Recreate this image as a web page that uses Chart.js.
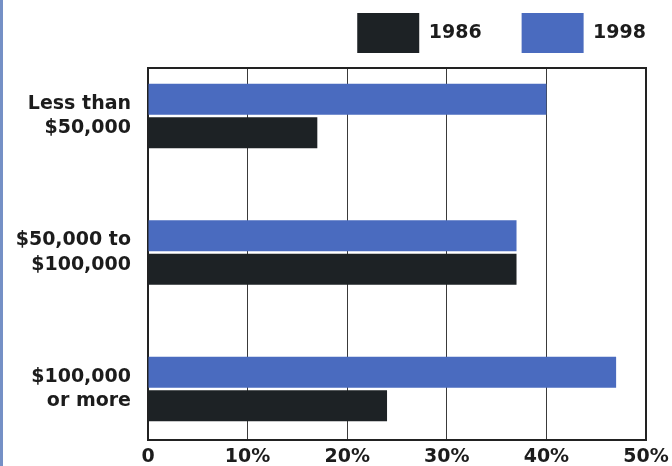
<!DOCTYPE html>
<html>
<head>
<meta charset="utf-8">
<script src="https://cdn.jsdelivr.net/npm/chart.js@4"></script>
<style>
  html, body { margin: 0; padding: 0; background: #fff; overflow: hidden; }
  #wrap { position: relative; width: 672px; height: 466px; }
  #edge { position: absolute; left: 0; top: 0; width: 3px; height: 466px; background: #7590c6; }
</style>
</head>
<body>
<div id="wrap">
  <canvas id="incomeChart"></canvas>
  <div id="edge"></div>
</div>
<script>
// categories (top to bottom) and values in percent
const categories = [
    ['Less than', '$50,000'],
    ['$50,000 to', '$100,000'],
    ['$100,000', 'or more']
];
const values1998 = [40, 37, 47];
const values1986 = [17, 37, 24];
const xTicks = [0, 10, 20, 30, 40, 50];

const labelFont = { family: 'DejaVu Sans', weight: 'bold', size: 19, lineHeight: 1.3 };
const ink = '#1c1c1c';
const clear = 'rgba(0,0,0,0)';

const toPoints = vals => vals.map((v, i) => ({ x: v, y: i }));

new Chart(document.getElementById('incomeChart'), {
    type: 'bar',
    data: {
        datasets: [
            {
                label: '1998',
                data: toPoints(values1998),
                backgroundColor: '#4a6bbf',
                borderWidth: 0
            },
            {
                label: '1986',
                data: toPoints(values1986),
                backgroundColor: '#1d2225',
                borderWidth: 0
            }
        ]
    },
    options: {
        indexAxis: 'y',
        responsive: true,
        maintainAspectRatio: false,
        animation: false,
        categoryPercentage: 0.49,
        barPercentage: 0.925,
        layout: { padding: { top: -27, right: -14, left: 0, bottom: 0 } },
        plugins: {
            tooltip: { enabled: false },
            legend: {
                position: 'top',
                align: 'end',
                labels: {
                    boxWidth: 62,
                    boxHeight: 40,
                    padding: 40,
                    color: ink,
                    font: labelFont,
                    sort: (a, b) => b.datasetIndex - a.datasetIndex
                }
            }
        },
        scales: {
            x: {
                type: 'linear',
                position: 'bottom',
                min: xTicks[0],
                max: xTicks[xTicks.length - 1],
                afterBuildTicks: s => { s.ticks = xTicks.map(v => ({ value: v })); },
                afterFit: s => { s.height = 26; },
                ticks: {
                    padding: 0,
                    color: ink,
                    font: labelFont,
                    callback: v => v === 0 ? '0' : v + '%'
                },
                grid: { color: '#3a3a3a', lineWidth: 1, drawTicks: true, tickLength: 5, tickColor: clear },
                border: { display: true, color: '#222', width: 2 }
            },
            x2: {
                type: 'linear',
                position: 'top',
                min: 0,
                max: 50,
                afterFit: s => { s.height = 5; },
                ticks: { display: false },
                grid: { display: false },
                border: { display: true, color: '#222', width: 2 }
            },
            y: {
                type: 'linear',
                position: 'left',
                reverse: true,
                offset: false,
                min: -0.352,
                max: 2.374,
                afterBuildTicks: s => { s.ticks = categories.map((c, i) => ({ value: i })); },
                afterFit: s => { s.width = 148; },
                ticks: {
                    padding: 1,
                    color: ink,
                    font: labelFont,
                    callback: v => categories[v]
                },
                // invisible tick marks push the labels away from the axis
                grid: {
                    display: true,
                    offset: false,
                    drawOnChartArea: false,
                    drawTicks: true,
                    tickLength: 16,
                    tickColor: clear
                },
                border: { display: true, color: '#222', width: 2 }
            },
            y2: {
                type: 'linear',
                position: 'right',
                afterFit: s => { s.width = 40; },
                ticks: { display: false },
                grid: { display: false },
                border: { display: true, color: '#222', width: 2 }
            }
        }
    }
});
</script>
</body>
</html>
